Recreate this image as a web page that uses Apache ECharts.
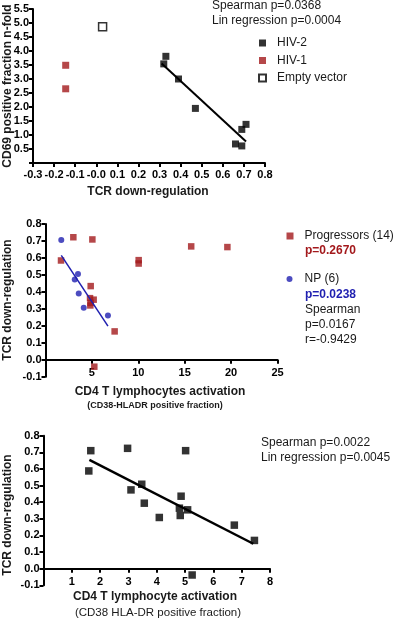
<!DOCTYPE html>
<html><head><meta charset="utf-8">
<script src="https://cdn.jsdelivr.net/npm/echarts@6/dist/echarts.min.js"></script>
<style>html,body{margin:0;padding:0;background:#fff}#c{width:400px;height:620px}</style>
</head><body><div id="c"></div>
<script>
// ---- Panel A: CD69 vs TCR down-regulation ----
const aHiv2 = [[0.32,3.54],[0.33,3.81],[0.39,3.0],[0.47,1.95],[0.71,1.38],[0.69,1.2],[0.66,0.68],[0.69,0.61]];
const aHiv1 = [[-0.145,3.49],[-0.145,2.65]];
const aEmpty = [[0.03,4.87]];
const aFit = [[0.31,3.55],[0.71,0.77]];
const aXLabels = ['-0.3','-0.2','-0.1','-0.0','0.1','0.2','0.3','0.4','0.5','0.6','0.7','0.8'];
const aNotes = ['Spearman p=0.0368','Lin regression p=0.0004'];

// ---- Panel B: TCR down-regulation vs CD4 activation (groups) ----
const bProg = [[1.67,0.585],[3.0,0.722],[5.05,0.709],[4.87,0.434],[4.8,0.363],[5.19,0.354],[4.83,0.32],[4.86,0.335],[7.45,0.167],[5.26,-0.041],[10.04,0.587],[10.04,0.567],[15.7,0.668],[19.6,0.664]];
const bNP = [[1.7,0.705],[3.15,0.473],[3.5,0.505],[3.58,0.39],[4.12,0.306],[6.73,0.26]];
const bFit = [[1.7,0.615],[6.73,0.198]];

// ---- Panel C: TCR down-regulation vs CD4 activation (all) ----
const cPts = [[1.67,0.71],[1.6,0.588],[2.97,0.724],[3.09,0.474],[3.47,0.508],[3.56,0.394],[4.09,0.308],[4.8,0.364],[4.86,0.436],[4.83,0.32],[5.09,0.354],[5.02,0.71],[5.25,-0.038],[6.74,0.262],[7.45,0.17]];
const cFit = [[1.62,0.654],[7.41,0.15]];
const cNotes = ['Spearman p=0.0022','Lin regression p=0.0045'];

const FF = '"Liberation Sans", Arial, sans-serif';
const RED = '#a3191c', BLUE = '#1f1fb0';

function axisBase(extra) {
  return Object.assign({
    type: 'value',
    splitLine: {show: false},
    axisLine: {show: true, lineStyle: {color: '#000', width: 2}},
    axisTick: {show: true, length: 4, lineStyle: {color: '#000', width: 2}},
    axisLabel: {color: '#000', fontFamily: FF, fontWeight: 'bold', fontSize: 11, margin: 4}
  }, extra);
}
function txt(x, y, s, o) {
  o = o || {};
  return {type: 'text', x: x, y: y, rotation: o.rot || 0,
    style: {text: s, fill: o.color || '#1a1a1a', font: (o.weight || 'normal') + ' ' + (o.size || 12) + 'px ' + FF,
      textAlign: o.align || 'left', textVerticalAlign: 'middle'}};
}

const chart = echarts.init(document.getElementById('c'), null, {renderer: 'canvas'});
chart.setOption({
  animation: false,
  grid: [
    {left: 33, top: 9, width: 232, height: 154},
    {left: 45.5, top: 224, width: 232, height: 152.7},
    {left: 43.5, top: 435.7, width: 226.5, height: 149.6}
  ],
  xAxis: [
    axisBase({gridIndex: 0, min: -0.3, max: 0.8, interval: 0.1,
      axisLabel: {color: '#000', fontFamily: FF, fontWeight: 'bold', fontSize: 11, margin: 6,
        formatter: v => aXLabels[Math.round((v + 0.3) / 0.1)]}}),
    axisBase({gridIndex: 1, min: 0, max: 25, interval: 5,
      axisLabel: {color: '#000', fontFamily: FF, fontWeight: 'bold', fontSize: 11, margin: -9,
        formatter: v => v === 0 ? '' : String(v)}}),
    axisBase({gridIndex: 2, min: 0, max: 8, interval: 1,
      axisLabel: {color: '#000', fontFamily: FF, fontWeight: 'bold', fontSize: 11, margin: -9,
        formatter: v => v === 0 ? '' : String(v)}})
  ],
  yAxis: [
    axisBase({gridIndex: 0, min: 0, max: 5.5, interval: 0.5,
      axisLine: {show: true, onZero: false, lineStyle: {color: '#000', width: 2}},
      axisLabel: {color: '#000', fontFamily: FF, fontWeight: 'bold', fontSize: 11, margin: 4,
        formatter: v => v === 0 ? '' : v.toFixed(1)}}),
    axisBase({gridIndex: 1, min: -0.1, max: 0.8, interval: 0.1,
      axisLabel: {color: '#000', fontFamily: FF, fontWeight: 'bold', fontSize: 11, margin: 4,
        formatter: v => v.toFixed(1)}}),
    axisBase({gridIndex: 2, min: -0.1, max: 0.8, interval: 0.1,
      axisLabel: {color: '#000', fontFamily: FF, fontWeight: 'bold', fontSize: 11, margin: 4,
        formatter: v => v.toFixed(1)}})
  ],
  legend: [
    {orient: 'vertical', left: 258, top: 37, padding: 0, itemGap: 5.5, itemWidth: 7, itemHeight: 7,
      selectedMode: false, data: ['HIV-2', 'HIV-1', 'Empty vector'],
      textStyle: {fontFamily: FF, fontSize: 12, color: '#1a1a1a', padding: [0, 0, 0, 6]}},
    {orient: 'vertical', left: 286.5, top: 230, padding: 0, itemWidth: 7, itemHeight: 7,
      selectedMode: false, data: ['Progressors (14)'],
      textStyle: {fontFamily: FF, fontSize: 12, color: '#1a1a1a', padding: [0, 0, 0, 6]}},
    {orient: 'vertical', left: 286.5, top: 273, padding: 0, itemWidth: 6, itemHeight: 6,
      selectedMode: false, data: ['NP (6)'],
      textStyle: {fontFamily: FF, fontSize: 12, color: '#1a1a1a', padding: [0, 0, 0, 7]}}
  ],
  series: [
    {name: 'fitA', type: 'line', xAxisIndex: 0, yAxisIndex: 0, data: aFit, symbol: 'none',
      lineStyle: {color: '#000', width: 2}},
    {name: 'HIV-2', type: 'scatter', xAxisIndex: 0, yAxisIndex: 0, data: aHiv2, symbol: 'rect', symbolSize: 7,
      itemStyle: {color: '#000'}},
    {name: 'HIV-1', type: 'scatter', xAxisIndex: 0, yAxisIndex: 0, data: aHiv1, symbol: 'rect', symbolSize: 7,
      itemStyle: {color: RED}},
    {name: 'Empty vector', type: 'scatter', xAxisIndex: 0, yAxisIndex: 0, data: aEmpty, symbol: 'rect', symbolSize: 8,
      itemStyle: {color: '#fff', borderColor: '#000', borderWidth: 1.5}},

    {name: 'fitB', type: 'line', xAxisIndex: 1, yAxisIndex: 1, data: bFit, symbol: 'none',
      lineStyle: {color: BLUE, width: 1.5}},
    {name: 'Progressors (14)', type: 'scatter', xAxisIndex: 1, yAxisIndex: 1, data: bProg, symbol: 'rect', symbolSize: 6.5,
      itemStyle: {color: RED}},
    {name: 'NP (6)', type: 'scatter', xAxisIndex: 1, yAxisIndex: 1, data: bNP, symbol: 'circle', symbolSize: 6,
      itemStyle: {color: BLUE}},

    {name: 'fitC', type: 'line', xAxisIndex: 2, yAxisIndex: 2, data: cFit, symbol: 'none',
      lineStyle: {color: '#000', width: 2.5}},
    {name: 'TCR', type: 'scatter', xAxisIndex: 2, yAxisIndex: 2, data: cPts, symbol: 'rect', symbolSize: 7.5,
      itemStyle: {color: '#000'}}
  ],
  graphic: [
    txt(8, 86, 'CD69 positive fraction n-fold', {rot: Math.PI / 2, weight: 'bold', align: 'center'}),
    txt(148, 192, 'TCR down-regulation', {weight: 'bold', align: 'center'}),
    txt(212, 6, aNotes[0]),
    txt(212, 21, aNotes[1]),

    txt(8, 300, 'TCR down-regulation', {rot: Math.PI / 2, weight: 'bold', align: 'center'}),
    txt(160, 392, 'CD4 T lymphocytes activation', {weight: 'bold', align: 'center'}),
    txt(155, 406, '(CD38-HLADR positive fraction)', {weight: 'bold', align: 'center', size: 9}),
    txt(305, 251, 'p=0.2670', {weight: 'bold', color: RED}),
    txt(305, 295, 'p=0.0238', {weight: 'bold', color: BLUE}),
    txt(305, 310, 'Spearman'),
    txt(305, 325, 'p=0.0167'),
    txt(305, 340, 'r=-0.9429'),

    txt(8, 515, 'TCR down-regulation', {rot: Math.PI / 2, weight: 'bold', align: 'center'}),
    txt(155, 597, 'CD4 T lymphocyte activation', {weight: 'bold', align: 'center'}),
    txt(158, 613, '(CD38 HLA-DR positive fraction)', {align: 'center', size: 11.5}),
    txt(261, 443, cNotes[0]),
    txt(261, 458, cNotes[1])
  ]
});
</script></body></html>
